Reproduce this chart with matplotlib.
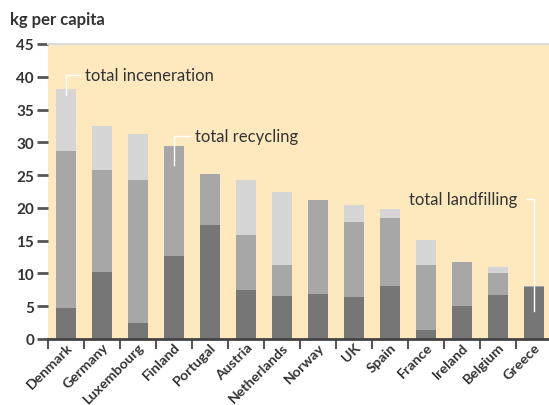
import numpy as np
import matplotlib
matplotlib.use("Agg")
import matplotlib.pyplot as plt

plt.rcParams['font.family'] = ['Lato', 'DejaVu Sans']

# === data (kg per capita) ===
countries = ['Denmark', 'Germany', 'Luxembourg', 'Finland', 'Portugal', 'Austria',
             'Netherlands', 'Norway', 'UK', 'Spain', 'France', 'Ireland',
             'Belgium', 'Greece']
dark = [4.7, 10.2, 2.4, 12.7, 17.4, 7.5, 6.6, 6.8, 6.4, 8.1, 1.4, 5.0, 6.7, 7.9]
medium = [24.0, 15.6, 21.8, 16.7, 7.7, 8.4, 4.7, 14.4, 11.5, 10.4, 9.9, 6.8, 3.3, 0.2]
light = [9.5, 6.7, 7.1, 0.0, 0.0, 8.4, 11.1, 0.0, 2.5, 1.3, 3.8, 0.0, 1.0, 0.0]

yticks = [0, 5, 10, 15, 20, 25, 30, 35, 40, 45]

bg = '#FEE9BF'
c_dark = '#767676'
c_med = '#A7A7A7'
c_light = '#D5D5D5'
txt = '#333333'

# === figure ===
fig = plt.figure(figsize=(5.49, 4.06), dpi=100)
ax = fig.add_axes([48/549, 1-340/406, 501/549, 295/406])
ax.set_facecolor(bg)

x = np.arange(len(countries))
w = 0.56
dark_a = np.array(dark)
med_a = np.array(medium)
light_a = np.array(light)
ax.bar(x, dark_a, w, color=c_dark, zorder=2)
ax.bar(x, med_a, w, bottom=dark_a, color=c_med, zorder=2)
ax.bar(x, light_a, w, bottom=dark_a + med_a, color=c_light, zorder=2)

ax.set_xlim(-0.5, 13.42)
ax.set_ylim(0, 45)

# y axis
ax.set_yticks(yticks)
ax.set_yticklabels([str(t) for t in yticks], fontsize=11, fontweight='bold', color=txt)
ax.tick_params(axis='y', length=8, width=2, color='#555555', pad=2)

# x axis: labels at bar centres, tick marks at boundaries
ax.set_xticks(x)
ax.set_xticklabels(countries, rotation=45, ha='right', rotation_mode='anchor',
                   fontsize=10.3, fontweight='bold', color=txt)
ax.tick_params(axis='x', which='major', length=0, pad=1)
ax.set_xticks(np.arange(len(countries)) - 0.5, minor=True)
ax.tick_params(axis='x', which='minor', length=7, width=1.5, color='#555555')

for s in ['left', 'right']:
    ax.spines[s].set_visible(False)
ax.spines['top'].set_color('#DADADA')
ax.spines['top'].set_linewidth(1.5)
ax.spines['bottom'].set_color('#444444')
ax.spines['bottom'].set_linewidth(2)

fig.text(10/549, 1-20/406, 'kg per capita', fontsize=12, fontweight='bold',
         color=txt, va='center', ha='left')

# annotations with white leader lines
tot = dark_a + med_a + light_a
ax.plot([0, 0, 0.4], [tot[0] - 1, 40.3, 40.3], color='white', lw=1, zorder=3)
ax.text(0.53, 40.3, 'total inceneration', fontsize=12, color=txt, va='center', ha='left')

ax.plot([3, 3, 3.45], [tot[3] - 2.8, 31.0, 31.0], color='white', lw=1, zorder=3)
ax.text(3.58, 31.0, 'total recycling', fontsize=12, color=txt, va='center', ha='left')

ax.plot([12.8, 13.0, 13.0], [21.3, 21.3, 4.3], color='white', lw=1, zorder=3)
ax.text(12.55, 21.3, 'total landfilling', fontsize=12, color=txt, va='center', ha='right')

fig.savefig('out.png', dpi=100)
